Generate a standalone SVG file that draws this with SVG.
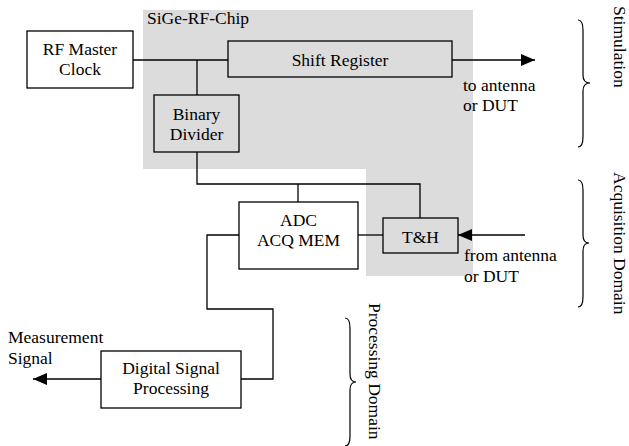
<svg xmlns="http://www.w3.org/2000/svg" width="629" height="446" viewBox="0 0 629 446">
<style>
text{font-family:'Liberation Serif','Times New Roman','DejaVu Serif',serif;font-size:17.5px;fill:#000}
.c{text-anchor:middle}
.box{stroke:#000;stroke-width:1.3}
.w{fill:#fff}
.g{fill:#dcdcdc}
.ln{fill:none;stroke:#000;stroke-width:1.3}
.br{fill:none;stroke:#000;stroke-width:1.2}
</style>
<defs>
<marker id="ah" markerWidth="14" markerHeight="12" refX="14" refY="6" orient="auto" markerUnits="userSpaceOnUse">
<path d="M0,0 L14,6 L0,12 Z" fill="#000"/>
</marker>
</defs>
<rect width="629" height="446" fill="#fff"/>
<g id="chip">
<polygon points="143,10 473,10 473,276 366,276 366,169 143,169" fill="#dcdcdc"/>
<text x="147" y="24">SiGe-RF-Chip</text>
</g>
<g id="connectors">
<path class="ln" d="M133,60 H228"/>
<path class="ln" d="M197,60 V95"/>
<path class="ln" d="M197,152 V184 H420 V218"/>
<path class="ln" d="M298,184 V202"/>
<path class="ln" d="M358,235 H383"/>
<path class="ln" d="M239,235 H207 V309 H273 V379 H241"/>
<path class="ln" d="M452,60 H535" marker-end="url(#ah)"/>
<path class="ln" d="M525,235 H458" marker-end="url(#ah)"/>
<path class="ln" d="M101,379 H33" marker-end="url(#ah)"/>
</g>
<g id="rf-master-clock">
<rect class="box w" x="27" y="31" width="106" height="57"/>
<text class="c" x="80" y="55">RF Master</text>
<text class="c" x="80" y="75">Clock</text>
</g>
<g id="shift-register">
<rect class="box g" x="228" y="41" width="224" height="36"/>
<text class="c" x="340" y="66">Shift Register</text>
</g>
<g id="binary-divider">
<rect class="box g" x="154" y="95" width="85" height="57"/>
<text class="c" x="196.5" y="120">Binary</text>
<text class="c" x="196.5" y="140">Divider</text>
</g>
<g id="adc">
<rect class="box w" x="239" y="202" width="119" height="67"/>
<text class="c" x="298.5" y="226">ADC</text>
<text class="c" x="298.5" y="246">ACQ MEM</text>
</g>
<g id="th">
<rect class="box g" x="383" y="218" width="75" height="35"/>
<text class="c" x="420.5" y="243">T&amp;H</text>
</g>
<g id="dsp">
<rect class="box w" x="101" y="351" width="140" height="57"/>
<text class="c" x="171" y="374">Digital Signal</text>
<text class="c" x="171" y="394">Processing</text>
</g>
<g id="labels">
<text x="463" y="91">to antenna</text>
<text x="463" y="111">or DUT</text>
<text x="464" y="261">from antenna</text>
<text x="464" y="282">or DUT</text>
<text x="8" y="343">Measurement</text>
<text x="8" y="364">Signal</text>
</g>
<g id="stimulation-domain">
<path class="br" d="M578,20 Q583,20 583,30 L583,75 Q583,83 590,83 Q583,83 583,91 L583,137 Q583,147 578,147"/>
<text transform="translate(614,6) rotate(90)">Stimulation</text>
</g>
<g id="acquisition-domain">
<path class="br" d="M578,180 Q583,180 583,190 L583,235 Q583,243 589,243 Q583,243 583,251 L583,297 Q583,307 578,307"/>
<text transform="translate(614,172) rotate(90)">Acquisition Domain</text>
</g>
<g id="processing-domain">
<path class="br" d="M345,318 Q350,318 350,328 L350,374 Q350,382 356,382 Q350,382 350,390 L350,436 Q350,446 345,446"/>
<text transform="translate(369,303) rotate(90)">Processing Domain</text>
</g>
</svg>
